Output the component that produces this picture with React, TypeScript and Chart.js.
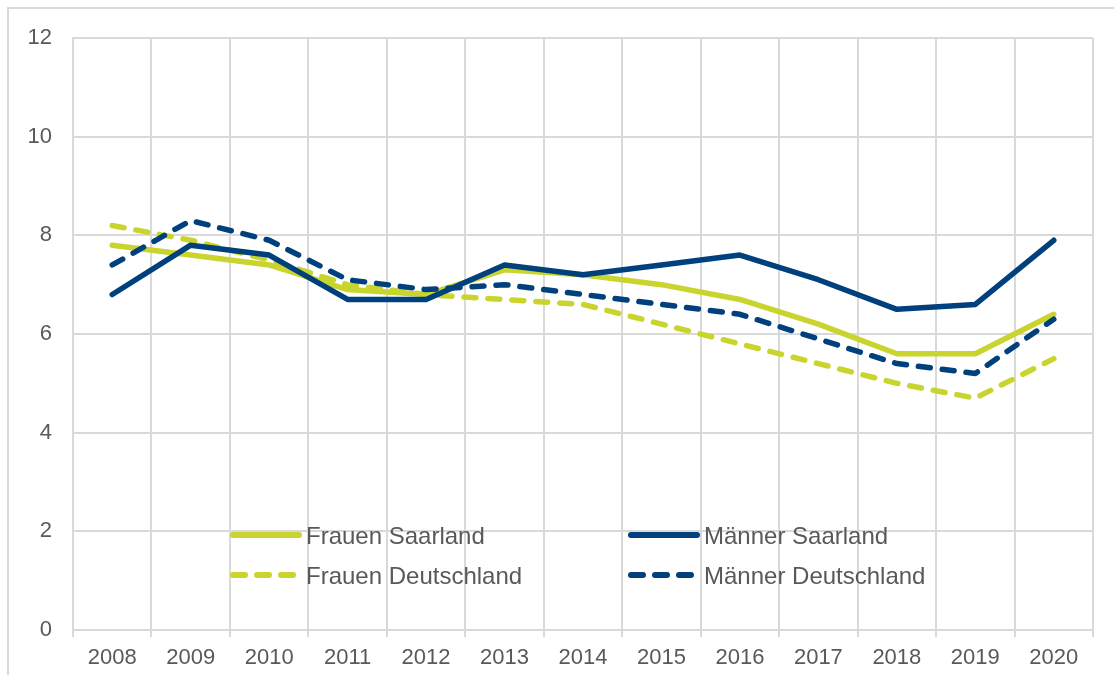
import React, { useEffect, useRef } from "react";
import { Chart, registerables } from "chart.js";

Chart.register(...registerables);

const years = ["2008", "2009", "2010", "2011", "2012", "2013", "2014", "2015", "2016", "2017", "2018", "2019", "2020"];
const frauenSaarland = [7.8, 7.6, 7.4, 6.9, 6.8, 7.3, 7.2, 7.0, 6.7, 6.2, 5.6, 5.6, 6.4];
const maennerSaarland = [6.8, 7.8, 7.6, 6.7, 6.7, 7.4, 7.2, 7.4, 7.6, 7.1, 6.5, 6.6, 7.9];
const frauenDeutschland = [8.2, 7.9, 7.5, 7.0, 6.8, 6.7, 6.6, 6.2, 5.8, 5.4, 5.0, 4.7, 5.5];
const maennerDeutschland = [7.4, 8.3, 7.9, 7.1, 6.9, 7.0, 6.8, 6.6, 6.4, 5.9, 5.4, 5.2, 6.3];
const seriesLabels = ["Frauen Saarland", "Männer Saarland", "Frauen Deutschland", "Männer Deutschland"];
const yMin = 0;
const yMax = 12;
const yStep = 2;

const LIME = "#C9D52E";
const NAVY = "#00407C";
const GRID = "#D9D9D9";
const TEXT = "#595959";
const FONT = "'Liberation Sans', Arial, sans-serif";

const frameBorder = {
  id: "frameBorder",
  beforeDraw(chart: any) {
    const ctx = chart.ctx;
    ctx.save();
    ctx.fillStyle = "#ffffff";
    ctx.fillRect(0, 0, chart.width, chart.height);
    ctx.strokeStyle = GRID;
    ctx.lineWidth = 2;
    ctx.beginPath();
    ctx.moveTo(8, chart.height);
    ctx.lineTo(8, 8);
    ctx.lineTo(chart.width, 8);
    ctx.stroke();
    ctx.restore();
  },
};

const customLegend = {
  id: "customLegend",
  afterDatasetsDraw(chart: any) {
    const ctx = chart.ctx;
    const ds = chart.data.datasets;
    // grid: column 1 -> datasets 0,2 ; column 2 -> datasets 1,3
    const cols = [230, 628];
    const rows = [535, 575];
    const layout = [
      { i: 0, c: 0, r: 0 },
      { i: 1, c: 1, r: 0 },
      { i: 2, c: 0, r: 1 },
      { i: 3, c: 1, r: 1 },
    ];
    ctx.save();
    ctx.font = `24px ${FONT}`;
    ctx.textBaseline = "middle";
    ctx.textAlign = "left";
    for (const it of layout) {
      const d = ds[it.i];
      const x = cols[it.c];
      const y = rows[it.r];
      ctx.strokeStyle = d.borderColor;
      ctx.lineWidth = 6;
      ctx.lineCap = "round";
      ctx.setLineDash(d.borderDash || []);
      ctx.beginPath();
      ctx.moveTo(x + 3, y);
      ctx.lineTo(x + 69, y);
      ctx.stroke();
      ctx.setLineDash([]);
      ctx.fillStyle = TEXT;
      ctx.fillText(d.label, x + 76, y + 2);
    }
    ctx.restore();
  },
};

export default function App() {
  const ref = useRef<HTMLCanvasElement | null>(null);

  useEffect(() => {
    if (!ref.current) return;
    const mk = (label: string, data: number[], color: string, dashed: boolean, order: number) => ({
      label,
      data,
      borderColor: color,
      backgroundColor: color,
      borderWidth: 5.5,
      borderDash: dashed ? [12, 12] : [],
      borderCapStyle: "round" as const,
      borderJoinStyle: "round" as const,
      pointRadius: 0,
      pointHoverRadius: 0,
      tension: 0,
      fill: false,
      order,
    });
    const chart = new Chart(ref.current, {
      type: "line",
      data: {
        labels: years,
        datasets: [
          mk(seriesLabels[0], frauenSaarland, LIME, false, 2),
          mk(seriesLabels[1], maennerSaarland, NAVY, false, 0),
          mk(seriesLabels[2], frauenDeutschland, LIME, true, 3),
          mk(seriesLabels[3], maennerDeutschland, NAVY, true, 1),
        ],
      },
      options: {
        responsive: false,
        animation: false,
        devicePixelRatio: 1,
        layout: { padding: { left: 0, top: 38, right: 21, bottom: 0 } },
        plugins: {
          legend: { display: false },
          tooltip: { enabled: false },
          title: { display: false },
        },
        scales: {
          x: {
            type: "category",
            offset: true,
            grid: {
              offset: true,
              color: GRID,
              lineWidth: 2,
              drawTicks: true,
              tickLength: 7,
              tickColor: GRID,
            },
            border: { color: GRID, width: 2 },
            ticks: {
              color: TEXT,
              font: { family: FONT, size: 22 },
              padding: 8,
              maxRotation: 0,
              autoSkip: false,
            },
            afterFit(scale: any) {
              scale.height = 45;
            },
          },
          y: {
            min: yMin,
            max: yMax,
            grid: { color: GRID, lineWidth: 2, drawTicks: false },
            border: { color: GRID, width: 2 },
            ticks: {
              stepSize: yStep,
              color: TEXT,
              font: { family: FONT, size: 22 },
              padding: 21,
            },
            afterFit(scale: any) {
              scale.width = 73;
            },
          },
        },
      },
      plugins: [frameBorder, customLegend],
    });
    return () => chart.destroy();
  }, []);

  return (
    <div style={{ position: "absolute", left: 0, top: 0, width: 1114, height: 675 }}>
      <canvas ref={ref} width={1114} height={675} style={{ display: "block" }} />
    </div>
  );
}
